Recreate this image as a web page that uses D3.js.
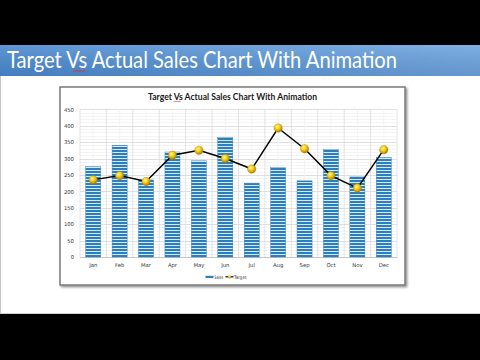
<!DOCTYPE html>
<html><head><meta charset="utf-8">
<script src="https://cdn.jsdelivr.net/npm/d3@7"></script>
<style>html,body{margin:0;padding:0;background:#000;}svg{display:block;}</style>
</head><body>
<svg id="c" width="480" height="360"></svg>
<script>
const months = ["Jan","Feb","Mar","Apr","May","Jun","Jul","Aug","Sep","Oct","Nov","Dec"];
const sales  = [275, 340, 235, 320, 293, 365, 225, 273, 232, 328, 244, 303];
const target = [235, 248, 230, 310, 325, 300, 268, 393, 330, 248, 210, 327];
const yTicks = [0, 50, 100, 150, 200, 250, 300, 350, 400, 450];
const pageTitle = "Target Vs Actual Sales Chart With Animation";
const chartTitle = "Target Vs Actual Sales Chart With Animation";
const legendLabels = ["Sales", "Target"];

const svg = d3.select("#c");
const defs = svg.append("defs");

const bg = defs.append("linearGradient").attr("id","ban").attr("x1","0").attr("x2","1").attr("y1","0").attr("y2","0");
bg.append("stop").attr("offset","0").attr("stop-color","#4a89d0");
bg.append("stop").attr("offset","1").attr("stop-color","#6ea5e0");
const bgv = defs.append("linearGradient").attr("id","banv").attr("x1","0").attr("x2","0").attr("y1","0").attr("y2","1");
bgv.append("stop").attr("offset","0").attr("stop-color","#ffffff").attr("stop-opacity",0.12);
bgv.append("stop").attr("offset","1").attr("stop-color","#000000").attr("stop-opacity",0.08);

const pat = defs.append("pattern").attr("id","stripe").attr("patternUnits","userSpaceOnUse")
  .attr("width",4).attr("height",3);
pat.append("rect").attr("width",4).attr("height",3).attr("fill","#2c7fbd");
pat.append("rect").attr("y",2).attr("width",4).attr("height",1).attr("fill","#d8e9f5");

const rg = defs.append("radialGradient").attr("id","ball").attr("cx","0.4").attr("cy","0.35").attr("r","0.65");
rg.append("stop").attr("offset","0").attr("stop-color","#fff7a0");
rg.append("stop").attr("offset","0.5").attr("stop-color","#f2c811");
rg.append("stop").attr("offset","1").attr("stop-color","#a87a00");

const sh = defs.append("filter").attr("id","shadow").attr("x","-5%").attr("y","-5%").attr("width","110%").attr("height","110%");
sh.append("feDropShadow").attr("dx",1.5).attr("dy",1.5).attr("stdDeviation",1.2).attr("flood-color","#000").attr("flood-opacity",0.45);

svg.append("rect").attr("x",0).attr("y",45).attr("width",480).attr("height",269).attr("fill","#ffffff");
svg.append("line").attr("x1",0.5).attr("x2",0.5).attr("y1",76).attr("y2",314).attr("stroke","#c8c8c8");
svg.append("line").attr("x1",0).attr("x2",480).attr("y1",313.5).attr("y2",313.5).attr("stroke","#d0d0d0");

svg.append("rect").attr("x",0).attr("y",45).attr("width",480).attr("height",31).attr("fill","url(#ban)");
svg.append("rect").attr("x",0).attr("y",45).attr("width",480).attr("height",31).attr("fill","url(#banv)");
svg.append("text").attr("x",7).attr("y",68).attr("fill","#ffffff")
  .attr("font-family","Lato, 'Open Sans', sans-serif").attr("font-size",22.5)
  .attr("textLength",390).attr("lengthAdjust","spacingAndGlyphs")
  .text(pageTitle);
function squiggle(x0, x1, y, amp, step){
  let p = `M${x0},${y}`; let up = true;
  for(let x = x0 + step; x <= x1 + 0.01; x += step){ p += ` L${x},${y + (up ? -amp : amp)}`; up = !up; }
  return p;
}
svg.append("path").attr("d",squiggle(73,86,71,0.8,1.2)).attr("fill","none").attr("stroke","#e03030").attr("stroke-width",0.8);

svg.append("rect").attr("x",60).attr("y",87).attr("width",345).attr("height",198)
  .attr("fill","#ffffff").attr("stroke","#7a7a7a").attr("stroke-width",1.5).attr("filter","url(#shadow)");

const plotL = 80, plotR = 397, plotT = 109.3, plotB = 257;
const x = d3.scaleBand().domain(months).range([plotL, plotR]).paddingInner(0.43).paddingOuter(0.215);
const y = d3.scaleLinear().domain([0, 450]).range([plotB, plotT]);

const g = svg.append("g");
const minor = d3.range(0, 451, 10);
g.selectAll("line.hmin").data(minor).join("line")
  .attr("x1",plotL).attr("x2",plotR).attr("y1",d=>Math.round(y(d))+0.5).attr("y2",d=>Math.round(y(d))+0.5)
  .attr("stroke","#f1f1f1").attr("stroke-width",0.8);
g.selectAll("line.hmaj").data(yTicks).join("line")
  .attr("x1",plotL).attr("x2",plotR).attr("y1",d=>Math.round(y(d))+0.5).attr("y2",d=>Math.round(y(d))+0.5)
  .attr("stroke","#d9d9d9").attr("stroke-width",0.8);
const step = x.step();
const bounds = months.map((m,i)=> plotL + i*step).concat([plotR]);
g.selectAll("line.v").data(bounds).join("line")
  .attr("x1",d=>d).attr("x2",d=>d).attr("y1",plotT).attr("y2",plotB)
  .attr("stroke","#dcdcdc").attr("stroke-width",0.8);
g.selectAll("line.vmin").data(months).join("line")
  .attr("x1",d=>x(d)+x.bandwidth()/2).attr("x2",d=>x(d)+x.bandwidth()/2).attr("y1",plotT).attr("y2",plotB)
  .attr("stroke","#f0f0f0").attr("stroke-width",0.8);

const yAxis = d3.axisLeft(y).tickValues(yTicks).tickSize(0).tickPadding(6);
const ya = svg.append("g").attr("transform",`translate(${plotL},0)`).call(yAxis);
ya.select(".domain").remove();
ya.selectAll("text").attr("font-family","'DejaVu Sans', sans-serif").attr("font-size",5.3).attr("fill","#333");

const xAxis = d3.axisBottom(x).tickSize(0).tickPadding(6);
const xa = svg.append("g").attr("transform",`translate(0,${plotB})`).call(xAxis);
xa.select(".domain").attr("stroke","#bfbfbf").attr("stroke-width",0.8);
xa.selectAll("text").attr("font-family","'DejaVu Sans', sans-serif").attr("font-size",5.3).attr("fill","#333");

svg.append("g").selectAll("rect").data(months).join("rect")
  .attr("x",d=>x(d)).attr("width",x.bandwidth())
  .attr("y",(d,i)=>y(sales[i])).attr("height",(d,i)=>plotB - y(sales[i]))
  .attr("fill","url(#stripe)").attr("stroke","#2a78b3").attr("stroke-width",0.4);

const line = d3.line().x((d,i)=>x(months[i])+x.bandwidth()/2).y(d=>y(d));
svg.append("path").datum(target).attr("d",line).attr("fill","none").attr("stroke","#000").attr("stroke-width",1.5);
svg.append("g").selectAll("circle").data(target).join("circle")
  .attr("cx",(d,i)=>x(months[i])+x.bandwidth()/2).attr("cy",d=>y(d)).attr("r",4.2)
  .attr("fill","url(#ball)").attr("stroke","#b08a00").attr("stroke-width",0.4);

svg.append("text").attr("x",232.5).attr("y",100).attr("text-anchor","middle")
  .attr("font-family","Lato, 'Open Sans', sans-serif").attr("font-weight","bold").attr("font-size",8.6)
  .attr("fill","#1a1a1a").attr("textLength",169).attr("lengthAdjust","spacingAndGlyphs")
  .text(chartTitle);
svg.append("path").attr("d",squiggle(173.5,181,101.5,0.5,0.8)).attr("fill","none").attr("stroke","#e03030").attr("stroke-width",0.5);

const lg = svg.append("g");
lg.append("rect").attr("x",205.5).attr("y",275).attr("width",8).attr("height",3.5).attr("fill","url(#stripe)");
lg.append("text").attr("x",214.3).attr("y",278.5).attr("font-family","'DejaVu Sans', sans-serif").attr("font-size",4.8)
  .attr("fill","#333").attr("textLength",9).attr("lengthAdjust","spacingAndGlyphs").text(legendLabels[0]);
lg.append("line").attr("x1",225.5).attr("x2",233.5).attr("y1",276.8).attr("y2",276.8).attr("stroke","#000").attr("stroke-width",1.2);
lg.append("circle").attr("cx",229.5).attr("cy",276.8).attr("r",1.6).attr("fill","url(#ball)");
lg.append("text").attr("x",234).attr("y",278.5).attr("font-family","'DejaVu Sans', sans-serif").attr("font-size",4.8)
  .attr("fill","#333").attr("textLength",12.5).attr("lengthAdjust","spacingAndGlyphs").text(legendLabels[1]);
</script>
</body></html>
